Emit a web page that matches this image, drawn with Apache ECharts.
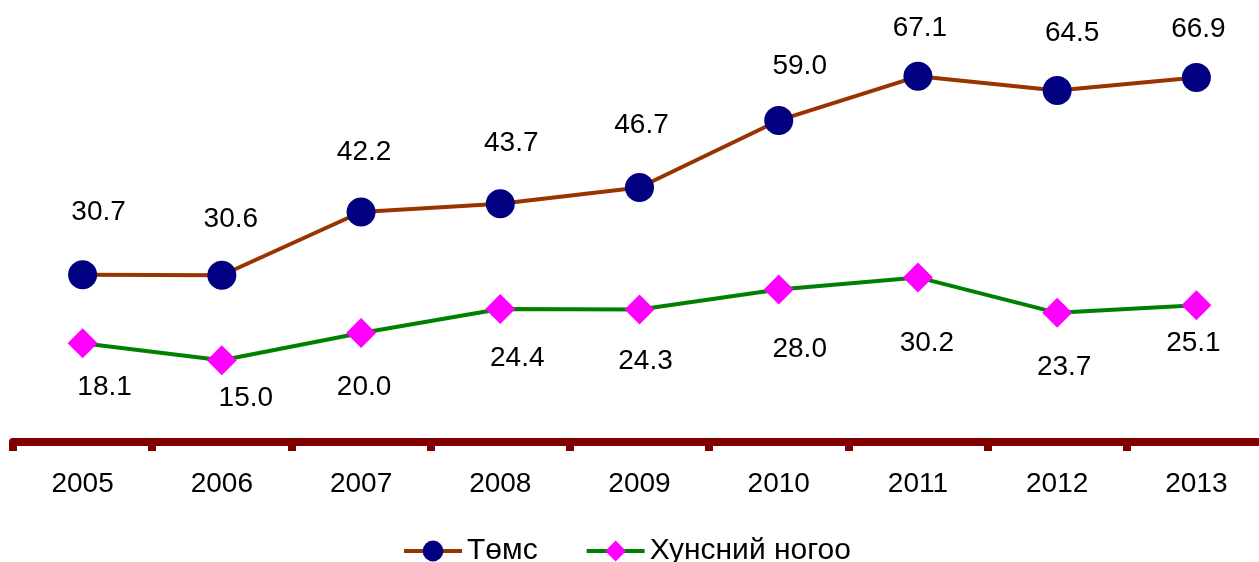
<!DOCTYPE html>
<html>
<head>
<meta charset="utf-8">
<title>Төмс, Хунсний ногоо</title>
<script src="https://cdn.jsdelivr.net/npm/echarts@6/dist/echarts.min.js"></script>
<style>
  html, body { margin: 0; padding: 0; background: #ffffff; }
  #chart { width: 1259px; height: 562px; }
</style>
</head>
<body>
<div id="chart"></div>
<script>
const years = ['2005', '2006', '2007', '2008', '2009', '2010', '2011', '2012', '2013']
const tomsValues = [30.7, 30.6, 42.2, 43.7, 46.7, 59.0, 67.1, 64.5, 66.9]
const nogooValues = [18.1, 15.0, 20.0, 24.4, 24.3, 28.0, 30.2, 23.7, 25.1]

// где стоят подписи относительно точки (px), как в исходной картинке
const tomsLabelShift = [[16, -62], [9, -56], [3, -60], [11, -61], [2, -62], [21, -54], [2, -48], [15, -57], [2, -48]]
const nogooLabelShift = [[22, 44], [24, 38], [3, 54], [17, 49], [6, 52], [21, 60], [9, 66], [7, 54], [-3, 38]]

const font = "'Liberation Sans', Arial, sans-serif"

const chart = echarts.init(document.getElementById('chart'))

const withLabels = (values, shifts) =>
  values.map((v, i) => ({ value: v, label: { offset: shifts[i] } }))

const labelStyle = {
  show: true,
  position: 'inside',
  color: '#000000',
  fontSize: 28,
  fontFamily: font,
  formatter: p => p.value.toFixed(1)
}

const option = {
  backgroundColor: '#ffffff',
  animation: false,
  grid: {
    left: 13,
    top: 6,
    width: 1253,
    height: 436,
    outerBoundsMode: 'none'
  },
  xAxis: {
    type: 'category',
    data: years,
    boundaryGap: true,
    axisLine: { show: true, lineStyle: { color: '#800000', width: 8 } },
    axisTick: { show: true, length: 9, lineStyle: { color: '#800000', width: 8 } },
    axisLabel: { color: '#000000', fontSize: 28, fontFamily: font, margin: 28 },
    splitLine: { show: false }
  },
  yAxis: {
    type: 'value',
    min: 0,
    max: 80,
    show: false,
    splitLine: { show: false }
  },
  legend: {
    left: 397,
    top: 531,
    itemWidth: 58,
    itemHeight: 26,
    itemGap: 47,
    lineStyle: { width: 4 },
    textStyle: { color: '#000000', fontSize: 30, fontFamily: font },
    data: ['Төмс', 'Хунсний ногоо']
  },
  series: [
    {
      name: 'Төмс',
      type: 'line',
      data: withLabels(tomsValues, tomsLabelShift),
      symbol: 'circle',
      symbolSize: 29,
      lineStyle: { color: '#993300', width: 4 },
      itemStyle: { color: '#000080' },
      label: labelStyle,
      z: 3
    },
    {
      name: 'Хунсний ногоо',
      type: 'line',
      data: withLabels(nogooValues, nogooLabelShift),
      symbol: 'diamond',
      symbolSize: 30,
      lineStyle: { color: '#008000', width: 4 },
      itemStyle: { color: '#ff00ff' },
      label: labelStyle,
      z: 2
    }
  ]
}

chart.setOption(option)
</script>
</body>
</html>
